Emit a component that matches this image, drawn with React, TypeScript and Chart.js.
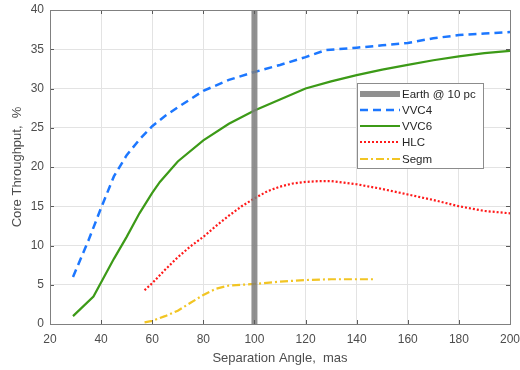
import React, { useEffect, useRef } from "react";
import { Chart, registerables } from "chart.js";

Chart.register(...registerables);

const xTicks = [20, 40, 60, 80, 100, 120, 140, 160, 180, 200];
const yTicks = [0, 5, 10, 15, 20, 25, 30, 35, 40];

const earthX = [100, 100];
const earthY = [0, 40];

const vvc4X = [29, 35, 40, 45, 50, 55, 60, 65, 70, 80, 90, 100, 110, 120, 128, 140, 150, 160, 170, 180, 190, 200];
const vvc4Y = [6.0, 10.6, 14.8, 18.8, 21.5, 23.5, 25.2, 26.5, 27.6, 29.7, 31.1, 32.1, 33.0, 34.0, 34.9, 35.2, 35.5, 35.8, 36.4, 36.8, 37.0, 37.2];

const vvc6X = [29, 37, 45, 50, 55, 60, 63, 70, 80, 90, 100, 110, 120, 130, 140, 150, 160, 170, 180, 190, 200];
const vvc6Y = [1.0, 3.5, 8.3, 11.1, 14.1, 16.7, 18.1, 20.7, 23.4, 25.5, 27.2, 28.6, 30.0, 30.9, 31.7, 32.4, 33.0, 33.6, 34.1, 34.5, 34.8];

const hlcX = [57, 60, 65, 70, 75, 80, 85, 90, 95, 100, 105, 110, 115, 120, 125, 130, 135, 140, 150, 160, 170, 180, 190, 200];
const hlcY = [4.3, 5.2, 6.9, 8.5, 9.9, 11.1, 12.5, 13.8, 15.0, 16.0, 16.9, 17.5, 17.9, 18.1, 18.2, 18.2, 18.0, 17.8, 17.2, 16.5, 15.8, 15.0, 14.4, 14.1];

const segmX = [57, 60, 65, 70, 75, 80, 85, 90, 95, 100, 110, 120, 130, 140, 147];
const segmY = [0.2, 0.4, 1.0, 1.7, 2.7, 3.7, 4.5, 4.9, 5.0, 5.1, 5.4, 5.6, 5.7, 5.7, 5.7];

const seriesNames = ["Earth @ 10 pc", "VVC4", "VVC6", "HLC", "Segm"];

const pts = (xs: number[], ys: number[]) => xs.map((x, i) => ({ x, y: ys[i] }));

const FONT = "'Liberation Sans', Arial, sans-serif";

export default function App() {
  const ref = useRef<HTMLCanvasElement | null>(null);

  useEffect(() => {
    if (!ref.current) return;

    const boxPlugin = {
      id: "boxPlugin",
      afterDatasetsDraw(chart: any) {
        const { ctx, chartArea: a, scales } = chart;
        ctx.save();
        ctx.strokeStyle = "#5a5a5a";
        ctx.lineWidth = 1;
        const tl = 4;
        xTicks.forEach((t) => {
          const px = Math.round(scales.x.getPixelForValue(t)) + 0.5;
          ctx.beginPath();
          ctx.moveTo(px, a.bottom);
          ctx.lineTo(px, a.bottom - tl);
          ctx.moveTo(px, a.top);
          ctx.lineTo(px, a.top + tl);
          ctx.stroke();
        });
        yTicks.forEach((t) => {
          const py = Math.round(scales.y.getPixelForValue(t)) + 0.5;
          ctx.beginPath();
          ctx.moveTo(a.left, py);
          ctx.lineTo(a.left + tl, py);
          ctx.moveTo(a.right, py);
          ctx.lineTo(a.right - tl, py);
          ctx.stroke();
        });
        ctx.strokeStyle = "#808080";
        ctx.strokeRect(Math.round(a.left) + 0.5, Math.round(a.top) + 0.5, Math.round(a.right - a.left), Math.round(a.bottom - a.top));

        const lx = 357, ly = 83, lw = 126, lh = 85;
        ctx.fillStyle = "#ffffff";
        ctx.fillRect(lx, ly, lw, lh);
        ctx.strokeStyle = "#8c8c8c";
        ctx.lineWidth = 1;
        ctx.strokeRect(lx + 0.5, ly + 0.5, lw, lh);
        const rows = [94, 110, 126, 142, 159];
        chart.data.datasets.forEach((ds: any, i: number) => {
          const y = rows[i];
          ctx.save();
          ctx.strokeStyle = ds.borderColor;
          ctx.lineWidth = i === 0 ? 6 : ds.borderWidth;
          ctx.setLineDash(ds.borderDash || []);
          ctx.beginPath();
          ctx.moveTo(360, y);
          ctx.lineTo(400, y);
          ctx.stroke();
          ctx.restore();
          ctx.fillStyle = "#262626";
          ctx.font = "11.5px " + FONT;
          ctx.textBaseline = "middle";
          ctx.textAlign = "left";
          ctx.fillText(seriesNames[i], 402, y + 1);
        });
        ctx.restore();
      },
    };

    const chart = new Chart(ref.current, {
      type: "line",
      data: {
        datasets: [
          {
            label: seriesNames[0],
            data: pts(earthX, earthY),
            borderColor: "rgba(125,125,125,0.85)",
            borderWidth: 6,
            pointRadius: 0,
            borderCapStyle: "butt",
          },
          {
            label: seriesNames[1],
            data: pts(vvc4X, vvc4Y),
            borderColor: "#1c77ff",
            borderWidth: 2.5,
            borderDash: [8, 5],
            pointRadius: 0,
          },
          {
            label: seriesNames[2],
            data: pts(vvc6X, vvc6Y),
            borderColor: "#3c9a17",
            borderWidth: 2.2,
            pointRadius: 0,
          },
          {
            label: seriesNames[3],
            data: pts(hlcX, hlcY),
            borderColor: "#ff1a1a",
            borderWidth: 2.2,
            borderDash: [2, 2],
            pointRadius: 0,
          },
          {
            label: seriesNames[4],
            data: pts(segmX, segmY),
            borderColor: "#f2c524",
            borderWidth: 2.2,
            borderDash: [8, 3, 2, 3],
            pointRadius: 0,
          },
        ],
      },
      options: {
        animation: false,
        responsive: false,
        maintainAspectRatio: false,
        layout: { padding: { top: 10, right: 10, left: 0, bottom: 0 } },
        plugins: { legend: { display: false }, tooltip: { enabled: false } },
        scales: {
          x: {
            type: "linear",
            min: 20,
            max: 200,
            afterBuildTicks: (s: any) => {
              s.ticks = xTicks.map((v) => ({ value: v }));
            },
            afterFit: (s: any) => {
              s.height = 46;
              s.paddingLeft = 0;
              s.paddingRight = 0;
            },
            grid: { color: "#e3e3e3", drawTicks: false, lineWidth: 1 },
            border: { display: true, color: "#808080" },
            ticks: { color: "#4d4d4d", font: { family: FONT, size: 12 }, padding: 8, maxRotation: 0 },
            title: {
              display: true,
              text: "Separation Angle,  mas",
              color: "#4d4d4d",
              font: { family: FONT, size: 13 },
              padding: { top: 2, bottom: 4 },
            },
          },
          y: {
            type: "linear",
            min: 0,
            max: 40,
            afterBuildTicks: (s: any) => {
              s.ticks = yTicks.map((v) => ({ value: v }));
            },
            afterFit: (s: any) => {
              s.width = 50;
              s.paddingTop = 0;
              s.paddingBottom = 0;
            },
            grid: { color: "#e3e3e3", drawTicks: false, lineWidth: 1 },
            border: { display: true, color: "#808080" },
            ticks: { color: "#4d4d4d", font: { family: FONT, size: 12 }, padding: 6 },
            title: {
              display: true,
              text: "Core Throughput,  %",
              color: "#4d4d4d",
              font: { family: FONT, size: 13 },
              padding: { top: 10, bottom: 0 },
            },
          },
        },
      },
      plugins: [boxPlugin],
    } as any);

    return () => chart.destroy();
  }, []);

  return (
    <div style={{ position: "fixed", left: 0, top: 0, width: 520, height: 370, background: "#fff" }}>
      <canvas ref={ref} width={520} height={370} style={{ width: 520, height: 370 }} />
    </div>
  );
}
